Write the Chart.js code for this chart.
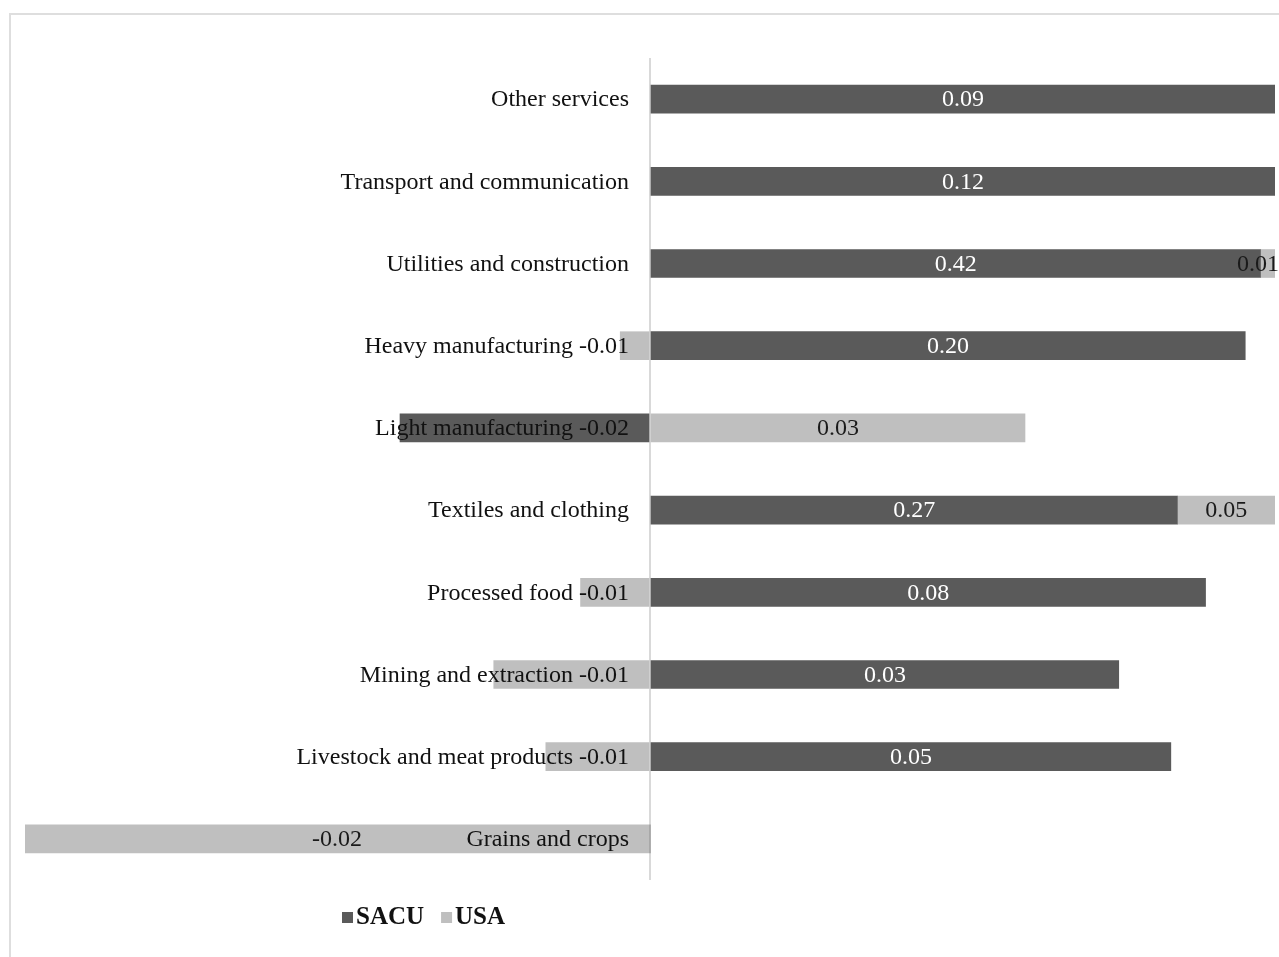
<!DOCTYPE html>
<html>
<head>
<meta charset="utf-8">
<script src="https://cdn.jsdelivr.net/npm/chart.js@4.4.0/dist/chart.umd.min.js"></script>
<style>
  html, body { margin: 0; padding: 0; background: #fff; overflow: hidden; }
  #frame {
    position: absolute; left: 9px; top: 13px;
    width: 1300px; height: 1000px;
    border: 2px solid #dedede; box-sizing: border-box;
  }
  #wrap { position: absolute; left: 0; top: 0; width: 1279px; height: 957px; }
</style>
</head>
<body>
<div id="frame"></div>
<div id="wrap"><canvas id="chart"></canvas></div>
<script>
// data (top row first)
const categories = [
  'Other services',
  'Transport and communication',
  'Utilities and construction',
  'Heavy manufacturing',
  'Light manufacturing',
  'Textiles and clothing',
  'Processed food',
  'Mining and extraction',
  'Livestock and meat products',
  'Grains and crops'
]
const sacuValues = [0.09, 0.12, 0.42, 0.20, -0.02, 0.27, 0.08, 0.03, 0.05, 0]
const usaValues = [0, 0, 0.01, -0.01, 0.03, 0.05, -0.01, -0.01, -0.01, -0.02]
const seriesNames = ['SACU', 'USA']

// colours / fonts
const SACU_COLOR = '#5a5a5a'
const USA_COLOR = '#bfbfbf'
const FONT = '"Liberation Serif", "Times New Roman", serif'

// each bar is drawn as its share of the row total (100% stacked)
const share = (vals, i) => {
  const total = Math.abs(sacuValues[i]) + Math.abs(usaValues[i])
  return total ? vals[i] / total : 0
}
const sacuShare = sacuValues.map((v, i) => share(sacuValues, i))
const usaShare = usaValues.map((v, i) => share(usaValues, i))
const rawValues = [sacuValues, usaValues]

const fmt = v => v.toFixed(2)

// a negative value in a row that also has a positive part sits beside the category name
const sideLabel = i => {
  const a = sacuValues[i], b = usaValues[i]
  if (a < 0 && b > 0) return { ds: 0, text: fmt(a) }
  if (b < 0 && a > 0) return { ds: 1, text: fmt(b) }
  return null
}

const labelPlugin = {
  id: 'labelPlugin',
  afterDatasetsDraw(chart) {
    const ctx = chart.ctx
    const zero = chart.scales.x.getPixelForValue(0)
    ctx.save()
    ctx.font = `24px ${FONT}`
    ctx.textBaseline = 'middle'

    // values inside the bars, kept inside the canvas
    chart.data.datasets.forEach((ds, d) => {
      const meta = chart.getDatasetMeta(d)
      meta.data.forEach((bar, i) => {
        const v = rawValues[d][i]
        if (!v) return
        const side = sideLabel(i)
        if (side && side.ds === d) return
        const text = fmt(v)
        const half = ctx.measureText(text).width / 2
        const cx = Math.min((bar.x + bar.base) / 2, chart.width - half)
        ctx.fillStyle = d === 0 ? '#ffffff' : '#1a1a1a'
        ctx.textAlign = 'center'
        ctx.fillText(text, cx, bar.y + 1)
      })
    })

    // category names next to the zero line
    const meta = chart.getDatasetMeta(0)
    categories.forEach((name, i) => {
      const side = sideLabel(i)
      const text = side ? `${name} ${side.text}` : name
      ctx.fillStyle = '#111111'
      ctx.textAlign = 'right'
      ctx.fillText(text, zero - 21, meta.data[i].y + 1)
    })
    ctx.restore()
  }
}

const legendPlugin = {
  id: 'legendPlugin',
  afterDraw(chart) {
    const ctx = chart.ctx
    ctx.save()
    ctx.font = `bold 25px ${FONT}`
    ctx.textBaseline = 'middle'
    ctx.textAlign = 'left'
    let x = 342
    const y = 917
    chart.data.datasets.forEach(ds => {
      ctx.fillStyle = ds.backgroundColor
      ctx.fillRect(x, y - 5, 11, 11)
      x += 14
      ctx.fillStyle = '#111111'
      ctx.fillText(ds.label, x, y + 1)
      x += ctx.measureText(ds.label).width + 17
    })
    ctx.restore()
  }
}

const chart = new Chart(document.getElementById('chart'), {
  type: 'bar',
  data: {
    labels: categories,
    datasets: [
      { label: seriesNames[0], data: sacuShare, backgroundColor: SACU_COLOR },
      { label: seriesNames[1], data: usaShare, backgroundColor: USA_COLOR }
    ]
  },
  options: {
    indexAxis: 'y',
    responsive: true,
    maintainAspectRatio: false,
    animation: false,
    layout: { padding: { left: 25, right: 4, top: 58, bottom: 77 } },
    datasets: { bar: { barThickness: 28, borderWidth: 0 } },
    plugins: {
      legend: { display: false },
      tooltip: { enabled: false }
    },
    scales: {
      x: {
        stacked: true,
        min: -1,
        max: 1,
        ticks: { display: false, stepSize: 1 },
        border: { display: false },
        grid: {
          drawTicks: false,
          lineWidth: 2,
          color: c => (c.tick && c.tick.value === 0 ? '#d9d9d9' : 'rgba(0,0,0,0)')
        }
      },
      y: {
        stacked: true,
        display: false
      }
    }
  },
  plugins: [labelPlugin, legendPlugin]
})
</script>
</body>
</html>
